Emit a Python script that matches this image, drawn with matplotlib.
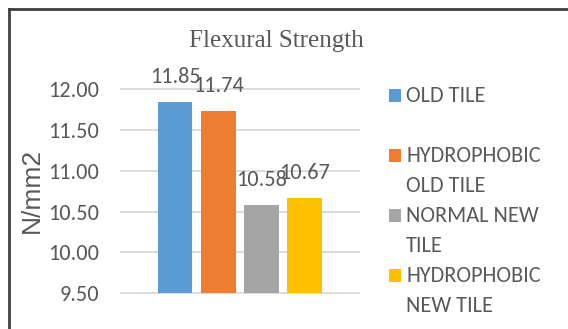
import matplotlib
matplotlib.use("Agg")
import matplotlib.pyplot as plt
from matplotlib.lines import Line2D
from matplotlib.patches import Rectangle
import logging

logging.getLogger("matplotlib.font_manager").setLevel(logging.ERROR)

# Flexural strength of each tile type (N/mm2)
series_names = ["OLD TILE", "HYDROPHOBIC\nOLD TILE", "NORMAL NEW\nTILE", "HYDROPHOBIC\nNEW TILE"]
strength = [11.85, 11.74, 10.58, 10.67]
colors = ["#5B9BD5", "#ED7D31", "#A5A5A5", "#FFC000"]
y_ticks = [9.50, 10.00, 10.50, 11.00, 11.50, 12.00]

W, H = 568, 329
TEXT = "#595959"
NARROW = ["Carlito", "PT Sans Narrow", "Archivo Narrow", "DejaVu Sans"]

fig = plt.figure(figsize=(W / 100, H / 100), dpi=100)
fig.patch.set_facecolor("white")

def fx(px):
    return px / W

def fy(py):
    return 1 - py / H

ax = fig.add_axes([fx(120.7), fy(293.3), fx(359) - fx(120.7), fy(89.3) - fy(293.3)])
ax.set_facecolor("none")

positions = list(range(len(strength)))
bars = ax.bar(positions, strength, width=0.8, color=colors, zorder=3)
ax.set_xlim(-1.255, 4.255)
ax.set_ylim(9.5, 12.0)

ax.set_yticks(y_ticks)
ax.set_yticklabels([f"{v:.2f}" for v in y_ticks], family=NARROW, fontsize=16, color=TEXT)
ax.tick_params(axis="y", length=0, pad=15.5)
ax.set_xticks([])
for s in ax.spines.values():
    s.set_visible(False)
ax.grid(axis="y", color="#D9D9D9", linewidth=1.3, zorder=0)
for gl in ax.get_ygridlines():
    gl.set_clip_on(False)

# value labels above bars
for x, v in zip(positions, strength):
    ax.annotate(f"{v:.2f}", xy=(x, v), xytext=(0, 13.5), textcoords="offset points",
                ha="center", va="baseline", family=NARROW, fontsize=16, color=TEXT,
                annotation_clip=False)

# title and axis label
fig.text(fx(276), fy(41), "Flexural Strength", ha="center", va="center",
         family=["Liberation Serif", "DejaVu Serif"], fontsize=18, color=TEXT)
fig.text(fx(32), fy(190), "N/mm2", rotation=90, ha="center", va="center",
         family=["Liberation Sans", "DejaVu Sans"], fontsize=19, color=TEXT)

# legend: one square per series, labels wrapped over two lines
for i, (name, c) in enumerate(zip(series_names, colors)):
    y0 = 95.5 + 60 * i
    fig.add_artist(Rectangle((fx(389), fy(y0 + 6.5)), fx(12), fy(0) - fy(13),
                             transform=fig.transFigure, facecolor=c, edgecolor="none"))
    for j, line in enumerate(name.split("\n")):
        fig.text(fx(406), fy(y0 + 30 * j), line, ha="left", va="center",
                 family=NARROW, fontsize=16, color=TEXT)

# chart border (left and top edges)
fig.add_artist(Line2D([fx(8.5), fx(8.5)], [0, fy(8.5)], transform=fig.transFigure,
                      color="#404040", linewidth=2.0))
fig.add_artist(Line2D([fx(8.5), 1], [fy(8.5), fy(8.5)], transform=fig.transFigure,
                      color="#404040", linewidth=2.0))

fig.savefig("out.png", dpi=100)
